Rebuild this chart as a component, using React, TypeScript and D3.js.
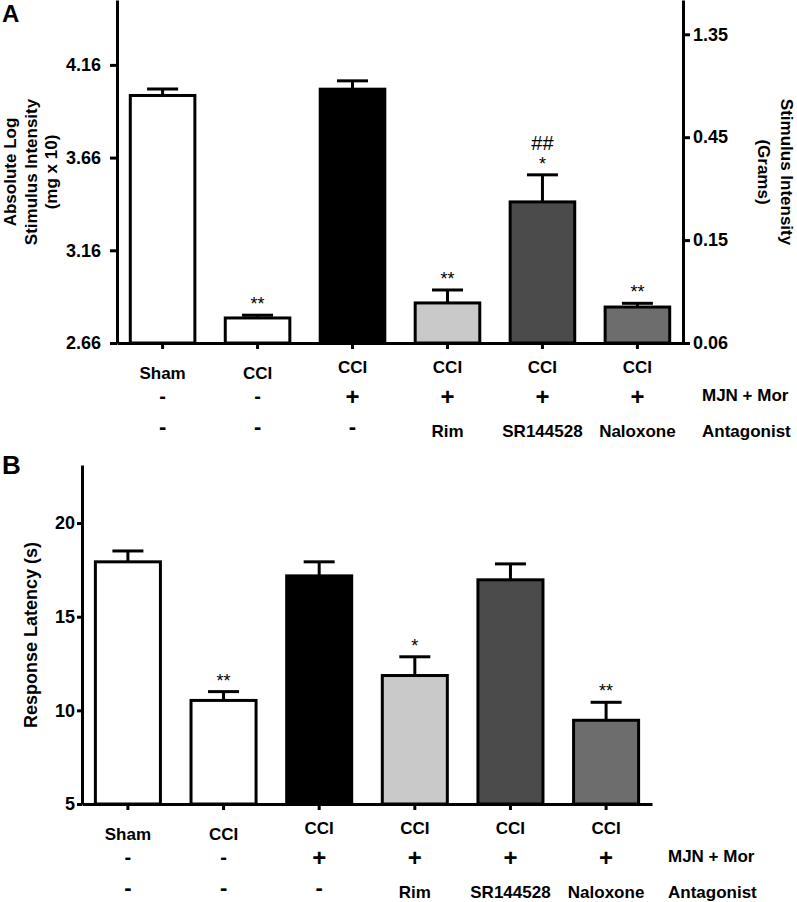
import { useEffect, useRef } from "react";
import * as d3 from "d3";

// groups along the x axis (same for both panels)
const groups = ["Sham", "CCI", "CCI", "CCI", "CCI", "CCI"];
const mjnMor = ["-", "-", "+", "+", "+", "+"];
const antagonist = ["-", "-", "-", "Rim", "SR144528", "Naloxone"];
const barFills = ["#ffffff", "#ffffff", "#000000", "#c9c9c9", "#4b4b4b", "#6d6d6d"];

// panel A: absolute log stimulus intensity
const logMeans = [3.995, 2.795, 4.029, 2.876, 3.421, 2.854];
const logErrs = [0.035, 0.015, 0.045, 0.07, 0.146, 0.02];
const logTicks = [2.66, 3.16, 3.66, 4.16];
const gramTickAt = [2.66, 3.215, 3.77, 4.325];
const gramTickLabels = ["0.06", "0.15", "0.45", "1.35"];
const logStars = ["", "**", "", "**", "*", "**"];
const logHashes = ["", "", "", "", "##", ""];

// panel B: response latency
const latencyMeans = [17.93, 10.53, 17.18, 11.86, 16.97, 9.47];
const latencyErrs = [0.58, 0.47, 0.75, 1.0, 0.85, 0.96];
const latencyTicks = [5, 10, 15, 20];
const latencyStars = ["", "**", "", "*", "", "**"];

const FONT = "'Liberation Sans', Arial, Helvetica, sans-serif";

type PanelProps = {
  means: number[];
  errs: number[];
  stars: string[];
  hashes?: string[];
  yTicks: number[];
  yFormat: (d: number) => string;
  yDomain: [number, number];
  top: number;
  base: number;
  left: number;
  right: number;
  yTickSize: number;
  yTickPad: number;
  rightTicks?: number[];
  rightLabels?: string[];
  rowX: number;
};

const BarPanel = ({
  means, errs, stars, hashes, yTicks, yFormat, yDomain, top, base, left, right,
  yTickSize, yTickPad, rightTicks, rightLabels, rowX,
}: PanelProps) => {
  const axesRef = useRef<SVGGElement>(null);
  const yScale = d3.scaleLinear().domain(yDomain).range([base, top]);
  const xScale = d3
    .scaleBand<number>()
    .domain(d3.range(groups.length))
    .range([left, right])
    .paddingInner(0.32)
    .paddingOuter(0.14);
  const bw = xScale.bandwidth();

  useEffect(() => {
    const g = d3.select(axesRef.current);
    g.selectAll("*").remove();
    g.append("g")
      .attr("transform", `translate(${left},0)`)
      .call(
        d3.axisLeft(yScale).tickValues(yTicks).tickFormat(yFormat as any)
          .tickSize(yTickSize).tickSizeOuter(0).tickPadding(yTickPad)
      );
    g.append("g")
      .attr("transform", `translate(0,${base})`)
      .call(d3.axisBottom(xScale).tickFormat(() => "").tickSize(6).tickSizeOuter(0));
    if (rightTicks && rightLabels) {
      g.append("g")
        .attr("transform", `translate(${right},0)`)
        .call(
          d3.axisRight(yScale).tickValues(rightTicks)
            .tickFormat((_d, i) => rightLabels[i])
            .tickSize(7).tickSizeOuter(0).tickPadding(3)
        );
    }
    g.selectAll(".domain, .tick line").attr("stroke", "#000").attr("stroke-width", 3);
    g.selectAll(".tick text")
      .attr("font-family", FONT)
      .attr("font-weight", "bold")
      .attr("font-size", 18)
      .attr("fill", "#000");
  }, []);

  return (
    <g>
      {means.map((m, i) => {
        const x = xScale(i)!;
        const cx = x + bw / 2;
        const yTop = yScale(m);
        const yErr = yScale(m + errs[i]);
        const plus = mjnMor[i] === "+";
        const dash = antagonist[i] === "-";
        return (
          <g key={i}>
            <line x1={cx} x2={cx} y1={yTop} y2={yErr} stroke="#000" strokeWidth={3} />
            <line x1={cx - 15.5} x2={cx + 15.5} y1={yErr} y2={yErr} stroke="#000" strokeWidth={3} />
            <rect x={x} y={yTop} width={bw} height={base - yTop} fill={barFills[i]} stroke="#000" strokeWidth={3} />
            {stars[i] && (
              <text x={cx} y={yErr - 5} textAnchor="middle" fontFamily={FONT} fontSize={18}>
                {stars[i]}
              </text>
            )}
            {hashes && hashes[i] && (
              <text x={cx} y={yErr - 25} textAnchor="middle" fontFamily={FONT} fontSize={20}>
                {hashes[i]}
              </text>
            )}
            <text x={cx} y={base + (i < 2 ? 36 : 30)} textAnchor="middle" fontFamily={FONT} fontWeight="bold" fontSize={17}>
              {groups[i]}
            </text>
            <text
              x={cx}
              y={base + (plus ? 62 : 60)}
              textAnchor="middle"
              fontFamily={FONT}
              fontWeight="bold"
              fontSize={plus ? 24 : 20}
            >
              {mjnMor[i]}
            </text>
            <text
              x={cx}
              y={base + (dash ? 91 : 94)}
              textAnchor="middle"
              fontFamily={FONT}
              fontWeight="bold"
              fontSize={dash ? 22 : 17}
            >
              {antagonist[i]}
            </text>
          </g>
        );
      })}
      <g ref={axesRef} />
      <text x={rowX} y={base + 58} fontFamily={FONT} fontWeight="bold" fontSize={17}>MJN + Mor</text>
      <text x={rowX} y={base + 94} fontFamily={FONT} fontWeight="bold" fontSize={17}>Antagonist</text>
    </g>
  );
};

export default function App() {
  return (
    <svg width={797} height={902} style={{ position: "absolute", left: 0, top: 0, background: "#fff" }}>
      <text x={2} y={22} fontFamily={FONT} fontWeight="bold" fontSize={24}>A</text>
      <g fontFamily={FONT} fontWeight="bold" fontSize={17}>
        <text transform="translate(16,172) rotate(-90)" textAnchor="middle">Absolute Log</text>
        <text transform="translate(37,172) rotate(-90)" textAnchor="middle">Stimulus Intensity</text>
        <text transform="translate(57,172) rotate(-90)" textAnchor="middle">(mg x 10)</text>
        <text transform="translate(781,172) rotate(90)" textAnchor="middle">Stimulus Intensity</text>
        <text transform="translate(758,172) rotate(90)" textAnchor="middle">(Grams)</text>
      </g>
      <BarPanel
        means={logMeans}
        errs={logErrs}
        stars={logStars}
        hashes={logHashes}
        yTicks={logTicks}
        yFormat={(d) => d.toFixed(2)}
        yDomain={[2.66, 4.51]}
        top={0}
        base={343}
        left={117}
        right={683}
        yTickSize={7}
        yTickPad={9}
        rightTicks={gramTickAt}
        rightLabels={gramTickLabels}
        rowX={702}
      />

      <text x={2} y={474} fontFamily={FONT} fontWeight="bold" fontSize={26}>B</text>
      <text transform="translate(37,635) rotate(-90)" textAnchor="middle" fontFamily={FONT} fontWeight="bold" fontSize={18}>
        Response Latency (s)
      </text>
      <BarPanel
        means={latencyMeans}
        errs={latencyErrs}
        stars={latencyStars}
        yTicks={latencyTicks}
        yFormat={(d) => String(d)}
        yDomain={[5, 23.1]}
        top={465}
        base={804}
        left={82}
        right={652}
        yTickSize={5}
        yTickPad={2}
        rowX={668}
      />
    </svg>
  );
}
